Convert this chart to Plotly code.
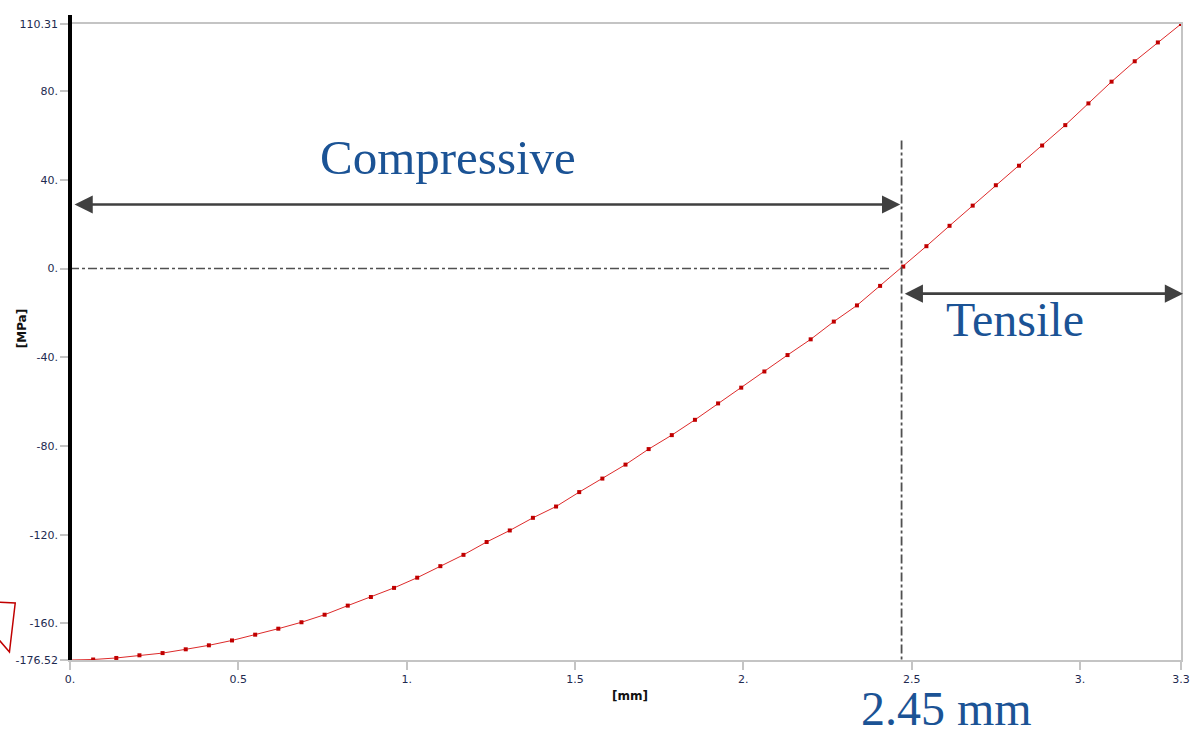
import plotly.graph_objects as go

# ---- data ----
depth_mm = [0, 0.06875, 0.1375, 0.20625, 0.275, 0.34375, 0.4125, 0.48125, 0.55, 0.61875,
            0.6875, 0.75625, 0.825, 0.89375, 0.9625, 1.03125, 1.1, 1.16875, 1.2375, 1.30625,
            1.375, 1.44375, 1.5125, 1.58125, 1.65, 1.71875, 1.7875, 1.85625, 1.925, 1.99375,
            2.0625, 2.13125, 2.2, 2.26875, 2.3375, 2.40625, 2.475, 2.54375, 2.6125, 2.68125,
            2.75, 2.81875, 2.8875, 2.95625, 3.025, 3.09375, 3.1625, 3.23125, 3.3]
stress_mpa = [-176.52, -176.3, -175.6, -174.4, -173.4, -171.7, -169.9, -167.7, -165.1, -162.4,
              -159.5, -156.1, -152.0, -148.1, -144.0, -139.4, -134.2, -129.1, -123.3, -118.1,
              -112.4, -107.3, -100.8, -94.7, -88.4, -81.4, -75.1, -68.2, -60.8, -53.7,
              -46.4, -39.0, -31.9, -23.9, -16.6, -7.8, 0.9, 10.1, 19.3, 28.4,
              37.6, 46.4, 55.5, 64.7, 74.5, 84.3, 93.5, 102.0, 110.31]

x_tickvals = [0, 0.5, 1, 1.5, 2, 2.5, 3, 3.3]
x_ticktext = ["0.", "0.5", "1.", "1.5", "2.", "2.5", "3.", "3.3"]
y_tickvals = [110.31, 80, 40, 0, -40, -80, -120, -160, -176.52]
y_ticktext = ["110.31", "80.", "40.", "0.", "-40.", "-80.", "-120.", "-160.", "-176.52"]

zero_cross = 2.47
x_min, x_max = 0, 3.3
y_min, y_max = -176.52, 110.31

label_blue = "#1b5395"
arrow_gray = "#404040"
tick_font = dict(family="DejaVu Sans", size=11, color="#1e2a50")

fig = go.Figure()
fig.add_trace(go.Scatter(
    x=depth_mm, y=stress_mpa, mode="lines+markers",
    line=dict(color="#dd2a2a", width=1),
    marker=dict(symbol="square", size=4, color="#c00000"),
    cliponaxis=False, showlegend=False, hoverinfo="x+y"))

shapes = [
    dict(type="line", xref="x", yref="y", x0=0, x1=2.435, y0=0, y1=0,
         line=dict(color="#505050", width=1.5, dash="dashdot")),
    dict(type="line", xref="x", yref="y", x0=zero_cross, x1=zero_cross, y0=57.8, y1=y_min,
         line=dict(color="#505050", width=1.8, dash="dashdot")),
    dict(type="line", xref="paper", yref="paper", x0=0, x1=0, y0=0, y1=1.014,
         line=dict(color="black", width=4)),
    dict(type="path", xref="paper", yref="paper",
         path="M -0.068,0.0915 L -0.0493,0.0896 L -0.0545,0.0126 L -0.068,0.040",
         line=dict(color="#c00000", width=1.5), fillcolor="white"),
]

annotations = [
    dict(x=zero_cross - 0.004, y=28.9, ax=0.009, ay=28.9, xref="x", yref="y",
         axref="x", ayref="y", text="", showarrow=True, arrowhead=2, arrowside="end+start",
         arrowsize=1.4, arrowwidth=2.6, arrowcolor=arrow_gray, standoff=0, startstandoff=0),
    dict(x=3.306, y=-11.3, ax=zero_cross + 0.005, ay=-11.3, xref="x", yref="y",
         axref="x", ayref="y", text="", showarrow=True, arrowhead=2, arrowside="end+start",
         arrowsize=1.4, arrowwidth=2.6, arrowcolor=arrow_gray, standoff=0, startstandoff=0),
    dict(x=1.124, y=50.1, xref="x", yref="y", text="Compressive", showarrow=False,
         xanchor="center", yanchor="middle",
         font=dict(family="Liberation Serif", size=49, color=label_blue)),
    dict(x=2.806, y=-23.0, xref="x", yref="y", text="Tensile", showarrow=False,
         xanchor="center", yanchor="middle",
         font=dict(family="Liberation Serif", size=48, color=label_blue)),
    dict(x=0.789, y=-77 / 636, xref="paper", yref="paper", text="2.45 mm", showarrow=False,
         xanchor="center", yanchor="bottom",
         font=dict(family="Liberation Serif", size=48, color=label_blue)),
    dict(x=-0.0432, y=0.52, xref="paper", yref="paper", text="<b>[MPa]</b>", showarrow=False,
         textangle=-90, xanchor="center", yanchor="middle",
         font=dict(family="DejaVu Sans", size=12, color="#111111")),
    dict(x=0.504, y=-0.056, xref="paper", yref="paper", text="<b>[mm]</b>", showarrow=False,
         xanchor="center", yanchor="middle",
         font=dict(family="DejaVu Sans", size=12, color="#111111")),
]

fig.update_layout(
    width=1192, height=737,
    margin=dict(l=70, r=11, t=24, b=77),
    paper_bgcolor="white", plot_bgcolor="white",
    shapes=shapes, annotations=annotations,
    xaxis=dict(range=[x_min, x_max], tickvals=x_tickvals, ticktext=x_ticktext,
               automargin=False,
               showgrid=False, zeroline=False, showline=True, linecolor="#c4c4c4",
               linewidth=1.5, mirror=True, ticks="outside", ticklen=8, tickcolor="#c4c4c4",
               tickwidth=1.5, tickfont=tick_font),
    yaxis=dict(range=[y_min, y_max], tickvals=y_tickvals, ticktext=y_ticktext,
               automargin=False,
               showgrid=False, zeroline=False, showline=True, linecolor="#c4c4c4",
               linewidth=1.5, mirror=True, ticks="outside", ticklen=8, tickcolor="#c4c4c4",
               tickwidth=1.5, tickfont=tick_font),
)

fig.write_html("out.html")
